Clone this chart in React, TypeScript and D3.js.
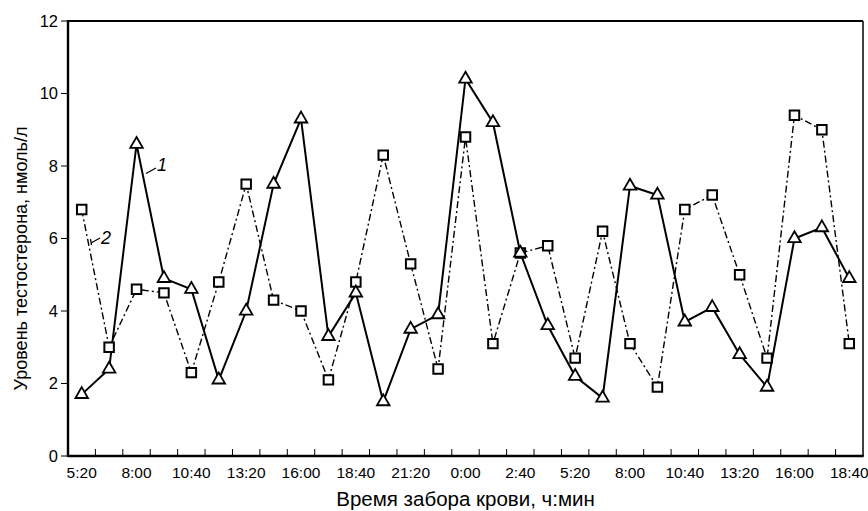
import React from "react";
import * as d3 from "d3";

const categories = [
  "5:20", "6:40", "8:00", "9:20", "10:40", "12:00", "13:20", "14:40", "16:00", "17:20",
  "18:40", "20:00", "21:20", "22:40", "0:00", "1:20", "2:40", "4:00", "5:20b", "6:40b",
  "8:00b", "9:20b", "10:40b", "12:00b", "13:20b", "14:40b", "16:00b", "17:20b", "18:40b",
];
const tickLabels = [
  "5:20", "", "8:00", "", "10:40", "", "13:20", "", "16:00", "", "18:40", "", "21:20", "", "0:00",
  "", "2:40", "", "5:20", "", "8:00", "", "10:40", "", "13:20", "", "16:00", "", "18:40",
];
const series1 = [
  1.7, 2.4, 8.6, 4.9, 4.6, 2.1, 4.0, 7.5, 9.3, 3.3, 4.5, 1.5, 3.5, 3.9, 10.4,
  9.2, 5.6, 3.6, 2.2, 1.6, 7.45, 7.2, 3.7, 4.1, 2.8, 1.9, 6.0, 6.3, 4.9,
];
const series2 = [
  6.8, 3.0, 4.6, 4.5, 2.3, 4.8, 7.5, 4.3, 4.0, 2.1, 4.8, 8.3, 5.3, 2.4, 8.8,
  3.1, 5.6, 5.8, 2.7, 6.2, 3.1, 1.9, 6.8, 7.2, 5.0, 2.7, 9.4, 9.0, 3.1,
];
const yTicks = [0, 2, 4, 6, 8, 10, 12];

const W = 868;
const H = 511;
const left = 68;
const right = 863;
const top = 21;
const bottom = 456;

export default function App() {
  const x = d3.scaleBand<string>().domain(categories).range([left, right]);
  const y = d3.scaleLinear().domain([0, 12]).range([bottom, top]);
  const cx = (i: number) => (x(categories[i]) as number) + x.bandwidth() / 2;
  const line = d3
    .line<number>()
    .x((_, i) => cx(i))
    .y((d) => y(d));
  const font = "Liberation Sans, Arial, sans-serif";
  const tri = d3.symbol().type(d3.symbolTriangle).size(68)();
  const sq = d3.symbol().type(d3.symbolSquare).size(90)();
  const boundaries = categories.slice(1).map((c) => x(c) as number);

  return (
    <svg width={W} height={H} style={{ position: "absolute", left: 0, top: 0, background: "#fff" }}>
      <rect x={0} y={0} width={W} height={H} fill="#fff" />
      {/* frame */}
      <line x1={left} y1={top} x2={right} y2={top} stroke="#000" strokeWidth={2.2} />
      <line x1={right} y1={top} x2={right} y2={bottom} stroke="#000" strokeWidth={1.5} />
      {/* x ticks inward */}
      {boundaries.map((b, i) => (
        <line key={"xt" + i} x1={b} x2={b} y1={bottom} y2={bottom - 7} stroke="#000" strokeWidth={1} />
      ))}
      {/* y ticks outward */}
      {yTicks.map((t) => (
        <g key={"yt" + t}>
          <line x1={left - 7} x2={left} y1={y(t)} y2={y(t)} stroke="#000" strokeWidth={1} />
          <text x={left - 10} y={y(t)} dy="0.35em" textAnchor="end" fontFamily={font} fontSize={16.5}>
            {t}
          </text>
        </g>
      ))}
      {/* x labels */}
      {tickLabels.map((l, i) =>
        l ? (
          <text key={"xl" + i} x={cx(i)} y={bottom + 22} textAnchor="middle" fontFamily={font} fontSize={15.5}>
            {l}
          </text>
        ) : null
      )}
      {/* series 2 */}
      <path d={line(series2) || ""} fill="none" stroke="#000" strokeWidth={1.4} strokeDasharray="7 3 2 3" />
      {/* series 1 */}
      <path d={line(series1) || ""} fill="none" stroke="#000" strokeWidth={2} />
      {series2.map((v, i) => (
        <path key={"s" + i} d={sq || ""} transform={`translate(${cx(i)},${y(v)})`} fill="#fff" stroke="#000" strokeWidth={2} />
      ))}
      {series1.map((v, i) => (
        <path key={"t" + i} d={tri || ""} transform={`translate(${cx(i)},${y(v)})`} fill="#fff" stroke="#000" strokeWidth={1.8} />
      ))}
      {/* axes */}
      <line x1={left} y1={top - 1} x2={left} y2={bottom + 1} stroke="#000" strokeWidth={2.4} />
      <line x1={left} y1={bottom} x2={right + 0.7} y2={bottom} stroke="#000" strokeWidth={2.4} />
      {/* annotations */}
      <line x1={146} y1={173.5} x2={156} y2={168} stroke="#000" strokeWidth={1.3} />
      <text x={157} y={171} fontFamily={font} fontStyle="italic" fontSize={18}>1</text>
      <line x1={91} y1={243} x2={100} y2={238} stroke="#000" strokeWidth={1.3} />
      <line x1={90.5} y1={239} x2={91.5} y2={245} stroke="#000" strokeWidth={1.3} />
      <text x={101} y={244} fontFamily={font} fontStyle="italic" fontSize={18}>2</text>
      {/* titles */}
      <text x={(left + right) / 2} y={506} textAnchor="middle" fontFamily={font} fontSize={20.5}>
        Время забора крови, ч:мин
      </text>
      <text
        transform={`translate(27,${(top + bottom) / 2 + 20}) rotate(-90)`}
        textAnchor="middle"
        fontFamily={font}
        fontSize={18}
      >
        Уровень тестостерона, нмоль/л
      </text>
    </svg>
  );
}
